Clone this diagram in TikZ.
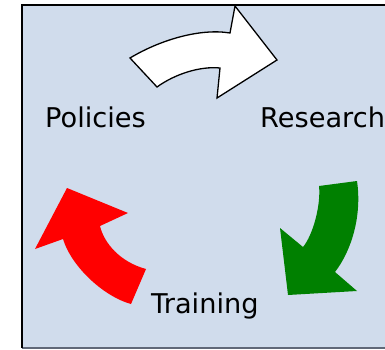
\documentclass[tikz,border=0pt]{standalone}
\usepackage{fontspec}
\setmainfont{DejaVu Sans}
\usepackage{xcolor}
\usepackage{tikz}
\usetikzlibrary{calc,positioning}
\definecolor{panelblue}{RGB}{208,220,236}
\definecolor{edgegray}{RGB}{96,104,120}
\definecolor{cyclegreen}{RGB}{0,128,0}
\tikzset{
  panel/.style={fill=panelblue, draw=none},
  cyclearrow/.style={line join=miter, line width=1.3pt},
  stagelabel/.style={anchor=base west, inner sep=0pt, font=\fontsize{27.2}{32}\selectfont}
}

\begin{document}
\begin{tikzpicture}[x=1pt, y=-1pt]
  \useasboundingbox (0,0) rectangle (385,350);
  % background panel
  \fill[panel] (22,5) rectangle (400,348);
  \draw[edgegray, line width=1.5pt] (22,348) -- (400,348);
  \draw[black, line width=2pt] (22,348) -- (22,5) -- (400,5);

  % stage labels
  \node[stagelabel] (policies) at (45,128) {Policies};
  \node[stagelabel] (research) at (260,128) {Research};
  \node[stagelabel] (training) at (151,313) {Training};

  % policies -> research
  \draw[cyclearrow, fill=white, draw=black]
    (130,58) .. controls (160,40) and (200,28) .. (230,33) -- (235,6) -- (277,60)
    -- (217,98) -- (220,68) .. controls (200,66) and (175,74) .. (157,87) -- cycle;

  % research -> training
  \fill[cyclegreen]
    (319,186) -- (357,181) .. controls (362,215) and (352,250) .. (335,272) -- (357,291)
    -- (288,295) -- (280,228) -- (303,247) .. controls (313,235) and (321,205) .. cycle;

  % training -> policies
  \fill[red]
    (146,269) -- (131,304) .. controls (105,297) and (72,268) .. (63,239) -- (35,249)
    -- (67,188) -- (128,213) -- (100,226) .. controls (104,243) and (120,262) .. cycle;
\end{tikzpicture}
\end{document}
